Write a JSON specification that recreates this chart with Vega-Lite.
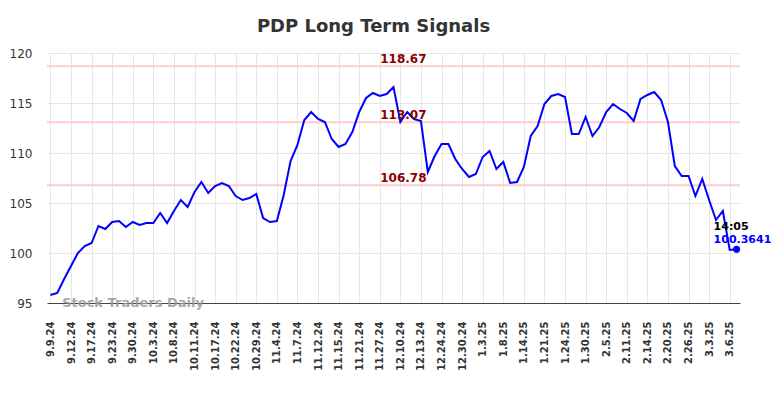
{
  "$schema": "https://vega.github.io/schema/vega-lite/v6.json",
  "width": 693,
  "height": 250,
  "autosize": {"type": "none"},
  "padding": {"left": 47, "top": 53, "right": 44, "bottom": 95},
  "background": "white",
  "title": {
    "text": "PDP Long Term Signals",
    "fontSize": 18,
    "fontWeight": "bold",
    "color": "#333333",
    "font": "DejaVu Sans",
    "anchor": "middle",
    "frame": "group",
    "baseline": "alphabetic",
    "offset": -3,
    "dx": -20
  },
  "config": {
    "view": {"stroke": null},
    "font": "DejaVu Sans",
    "axis": {"gridColor": "#e6e6e6", "gridWidth": 1}
  },
  "datasets": {
    "px": [
      {"d": "9.9.24", "v": 95.8}, {"d": "9.10.24", "v": 96.0}, {"d": "9.11.24", "v": 97.4}, {"d": "9.12.24", "v": 98.7},
      {"d": "9.13.24", "v": 100.0}, {"d": "9.16.24", "v": 100.7}, {"d": "9.17.24", "v": 101.0}, {"d": "9.18.24", "v": 102.7},
      {"d": "9.20.24", "v": 102.4}, {"d": "9.23.24", "v": 103.1}, {"d": "9.24.24", "v": 103.2}, {"d": "9.26.24", "v": 102.6},
      {"d": "9.30.24", "v": 103.1}, {"d": "10.1.24", "v": 102.8}, {"d": "10.2.24", "v": 103.0}, {"d": "10.3.24", "v": 103.0},
      {"d": "10.4.24", "v": 104.0}, {"d": "10.7.24", "v": 103.0}, {"d": "10.8.24", "v": 104.2}, {"d": "10.9.24", "v": 105.3},
      {"d": "10.10.24", "v": 104.6}, {"d": "10.11.24", "v": 106.1}, {"d": "10.14.24", "v": 107.1}, {"d": "10.16.24", "v": 106.0},
      {"d": "10.17.24", "v": 106.7}, {"d": "10.18.24", "v": 107.0}, {"d": "10.21.24", "v": 106.7}, {"d": "10.22.24", "v": 105.7},
      {"d": "10.24.24", "v": 105.3}, {"d": "10.28.24", "v": 105.5}, {"d": "10.29.24", "v": 105.9}, {"d": "10.30.24", "v": 103.5},
      {"d": "11.1.24", "v": 103.1}, {"d": "11.4.24", "v": 103.2}, {"d": "11.5.24", "v": 105.8}, {"d": "11.6.24", "v": 109.2},
      {"d": "11.7.24", "v": 110.8}, {"d": "11.8.24", "v": 113.3}, {"d": "11.11.24", "v": 114.1}, {"d": "11.12.24", "v": 113.4},
      {"d": "11.13.24", "v": 113.1}, {"d": "11.14.24", "v": 111.4}, {"d": "11.15.24", "v": 110.6}, {"d": "11.18.24", "v": 110.9},
      {"d": "11.20.24", "v": 112.1}, {"d": "11.21.24", "v": 114.1}, {"d": "11.22.24", "v": 115.5}, {"d": "11.26.24", "v": 116.0},
      {"d": "11.27.24", "v": 115.7}, {"d": "12.2.24", "v": 115.9}, {"d": "12.5.24", "v": 116.6}, {"d": "12.10.24", "v": 113.1},
      {"d": "12.11.24", "v": 114.1}, {"d": "12.12.24", "v": 113.4}, {"d": "12.13.24", "v": 113.2}, {"d": "12.17.24", "v": 108.1},
      {"d": "12.20.24", "v": 109.7}, {"d": "12.24.24", "v": 110.9}, {"d": "12.26.24", "v": 110.9}, {"d": "12.27.24", "v": 109.4},
      {"d": "12.30.24", "v": 108.4}, {"d": "12.31.24", "v": 107.6}, {"d": "1.2.25", "v": 107.9}, {"d": "1.3.25", "v": 109.6},
      {"d": "1.6.25", "v": 110.2}, {"d": "1.7.25", "v": 108.4}, {"d": "1.8.25", "v": 109.1}, {"d": "1.10.25", "v": 107.0},
      {"d": "1.13.25", "v": 107.1}, {"d": "1.14.25", "v": 108.6}, {"d": "1.16.25", "v": 111.7}, {"d": "1.17.25", "v": 112.7},
      {"d": "1.21.25", "v": 114.9}, {"d": "1.22.25", "v": 115.7}, {"d": "1.23.25", "v": 115.9}, {"d": "1.24.25", "v": 115.6},
      {"d": "1.27.25", "v": 111.9}, {"d": "1.29.25", "v": 111.9}, {"d": "1.30.25", "v": 113.6}, {"d": "1.31.25", "v": 111.7},
      {"d": "2.3.25", "v": 112.6}, {"d": "2.5.25", "v": 114.1}, {"d": "2.6.25", "v": 114.9}, {"d": "2.10.25", "v": 114.4},
      {"d": "2.11.25", "v": 114.0}, {"d": "2.12.25", "v": 113.2}, {"d": "2.13.25", "v": 115.4}, {"d": "2.14.25", "v": 115.8},
      {"d": "2.18.25", "v": 116.1}, {"d": "2.19.25", "v": 115.3}, {"d": "2.20.25", "v": 113.1}, {"d": "2.21.25", "v": 108.7},
      {"d": "2.25.25", "v": 107.7}, {"d": "2.26.25", "v": 107.7}, {"d": "2.27.25", "v": 105.7}, {"d": "2.28.25", "v": 107.4},
      {"d": "3.3.25", "v": 105.3}, {"d": "3.4.25", "v": 103.3}, {"d": "3.5.25", "v": 104.2}, {"d": "3.6.25", "v": 100.3},
      {"d": "3.7.25", "v": 100.3641}
    ],
    "refs": [
      {"d": "12.10.24", "r": 118.67},
      {"d": "12.10.24", "r": 113.07},
      {"d": "12.10.24", "r": 106.78}
    ],
    "last": [
      {"d": "3.7.25", "v": 100.3641, "time": "14:05", "label": "100.3641"}
    ],
    "mark": [
      {"d": "9.11.24", "v": 95, "label": "Stock Traders Daily"}
    ]
  },
  "encoding": {
    "x": {
      "field": "d", "type": "ordinal", "sort": null,
      "scale": {
        "type": "point", "padding": 0.5,
        "domain": ["9.9.24", "9.10.24", "9.11.24", "9.12.24", "9.13.24", "9.16.24", "9.17.24", "9.18.24", "9.20.24", "9.23.24", "9.24.24", "9.26.24", "9.30.24", "10.1.24", "10.2.24", "10.3.24", "10.4.24", "10.7.24", "10.8.24", "10.9.24", "10.10.24", "10.11.24", "10.14.24", "10.16.24", "10.17.24", "10.18.24", "10.21.24", "10.22.24", "10.24.24", "10.28.24", "10.29.24", "10.30.24", "11.1.24", "11.4.24", "11.5.24", "11.6.24", "11.7.24", "11.8.24", "11.11.24", "11.12.24", "11.13.24", "11.14.24", "11.15.24", "11.18.24", "11.20.24", "11.21.24", "11.22.24", "11.26.24", "11.27.24", "12.2.24", "12.5.24", "12.10.24", "12.11.24", "12.12.24", "12.13.24", "12.17.24", "12.20.24", "12.24.24", "12.26.24", "12.27.24", "12.30.24", "12.31.24", "1.2.25", "1.3.25", "1.6.25", "1.7.25", "1.8.25", "1.10.25", "1.13.25", "1.14.25", "1.16.25", "1.17.25", "1.21.25", "1.22.25", "1.23.25", "1.24.25", "1.27.25", "1.29.25", "1.30.25", "1.31.25", "2.3.25", "2.5.25", "2.6.25", "2.10.25", "2.11.25", "2.12.25", "2.13.25", "2.14.25", "2.18.25", "2.19.25", "2.20.25", "2.21.25", "2.25.25", "2.26.25", "2.27.25", "2.28.25", "3.3.25", "3.4.25", "3.5.25", "3.6.25", "3.7.25"]
      },
      "title": null,
      "axis": {
        "values": ["9.9.24", "9.12.24", "9.17.24", "9.23.24", "9.30.24", "10.3.24", "10.8.24", "10.11.24", "10.17.24", "10.22.24", "10.29.24", "11.4.24", "11.7.24", "11.12.24", "11.15.24", "11.21.24", "11.27.24", "12.10.24", "12.13.24", "12.24.24", "12.30.24", "1.3.25", "1.8.25", "1.14.25", "1.21.25", "1.24.25", "1.30.25", "2.5.25", "2.11.25", "2.14.25", "2.20.25", "2.26.25", "3.3.25", "3.6.25"],
        "labelAngle": -90,
        "labelFontSize": 10,
        "labelFontWeight": "bold",
        "labelColor": "#333333",
        "labelPadding": 18,
        "ticks": false,
        "tickSize": 0,
        "domain": true,
        "domainColor": "#444444",
        "domainWidth": 1,
        "grid": true
      }
    }
  },
  "layer": [
    {
      "data": {"name": "refs"},
      "mark": {"type": "rule", "color": "#ffcccc", "strokeWidth": 2},
      "encoding": {
        "x": null,
        "y": {"field": "r", "type": "quantitative", "scale": {"domain": [95, 120], "nice": false, "zero": false},
          "title": null,
          "axis": {
            "values": [95, 100, 105, 110, 115, 120],
            "labelFontSize": 12,
            "labelColor": "#333333",
            "labelPadding": 15,
            "ticks": false,
            "tickSize": 0,
            "domain": false,
            "grid": true
          }}
      }
    },
    {
      "data": {"name": "px"},
      "mark": {"type": "line", "color": "#0000ff", "strokeWidth": 2},
      "encoding": {
        "y": {"field": "v", "type": "quantitative"}
      }
    },
    {
      "data": {"name": "refs"},
      "mark": {"type": "text", "color": "#8b0000", "fontSize": 12, "fontWeight": "bold", "align": "center", "baseline": "alphabetic", "dx": 3, "dy": -3},
      "encoding": {
        "y": {"field": "r", "type": "quantitative"},
        "text": {"field": "r", "type": "quantitative", "format": ".2f"}
      }
    },
    {
      "data": {"name": "last"},
      "mark": {"type": "point", "filled": true, "color": "#0000ff", "size": 50, "opacity": 1},
      "encoding": {
        "y": {"field": "v", "type": "quantitative"}
      }
    },
    {
      "data": {"name": "last"},
      "mark": {"type": "text", "color": "#000000", "fontSize": 11, "fontWeight": "bold", "align": "left", "baseline": "alphabetic", "dx": -23, "dy": -19},
      "encoding": {
        "y": {"field": "v", "type": "quantitative"},
        "text": {"field": "time"}
      }
    },
    {
      "data": {"name": "last"},
      "mark": {"type": "text", "color": "#0000ff", "fontSize": 11, "fontWeight": "bold", "align": "left", "baseline": "alphabetic", "dx": -23, "dy": -6},
      "encoding": {
        "y": {"field": "v", "type": "quantitative"},
        "text": {"field": "label"}
      }
    },
    {
      "data": {"name": "mark"},
      "mark": {"type": "text", "color": "#999999", "opacity": 0.85, "fontSize": 13, "fontWeight": "bold", "align": "left", "baseline": "alphabetic", "dx": -2, "dy": 3.5},
      "encoding": {
        "y": {"field": "v", "type": "quantitative"},
        "text": {"field": "label"}
      }
    }
  ]
}
